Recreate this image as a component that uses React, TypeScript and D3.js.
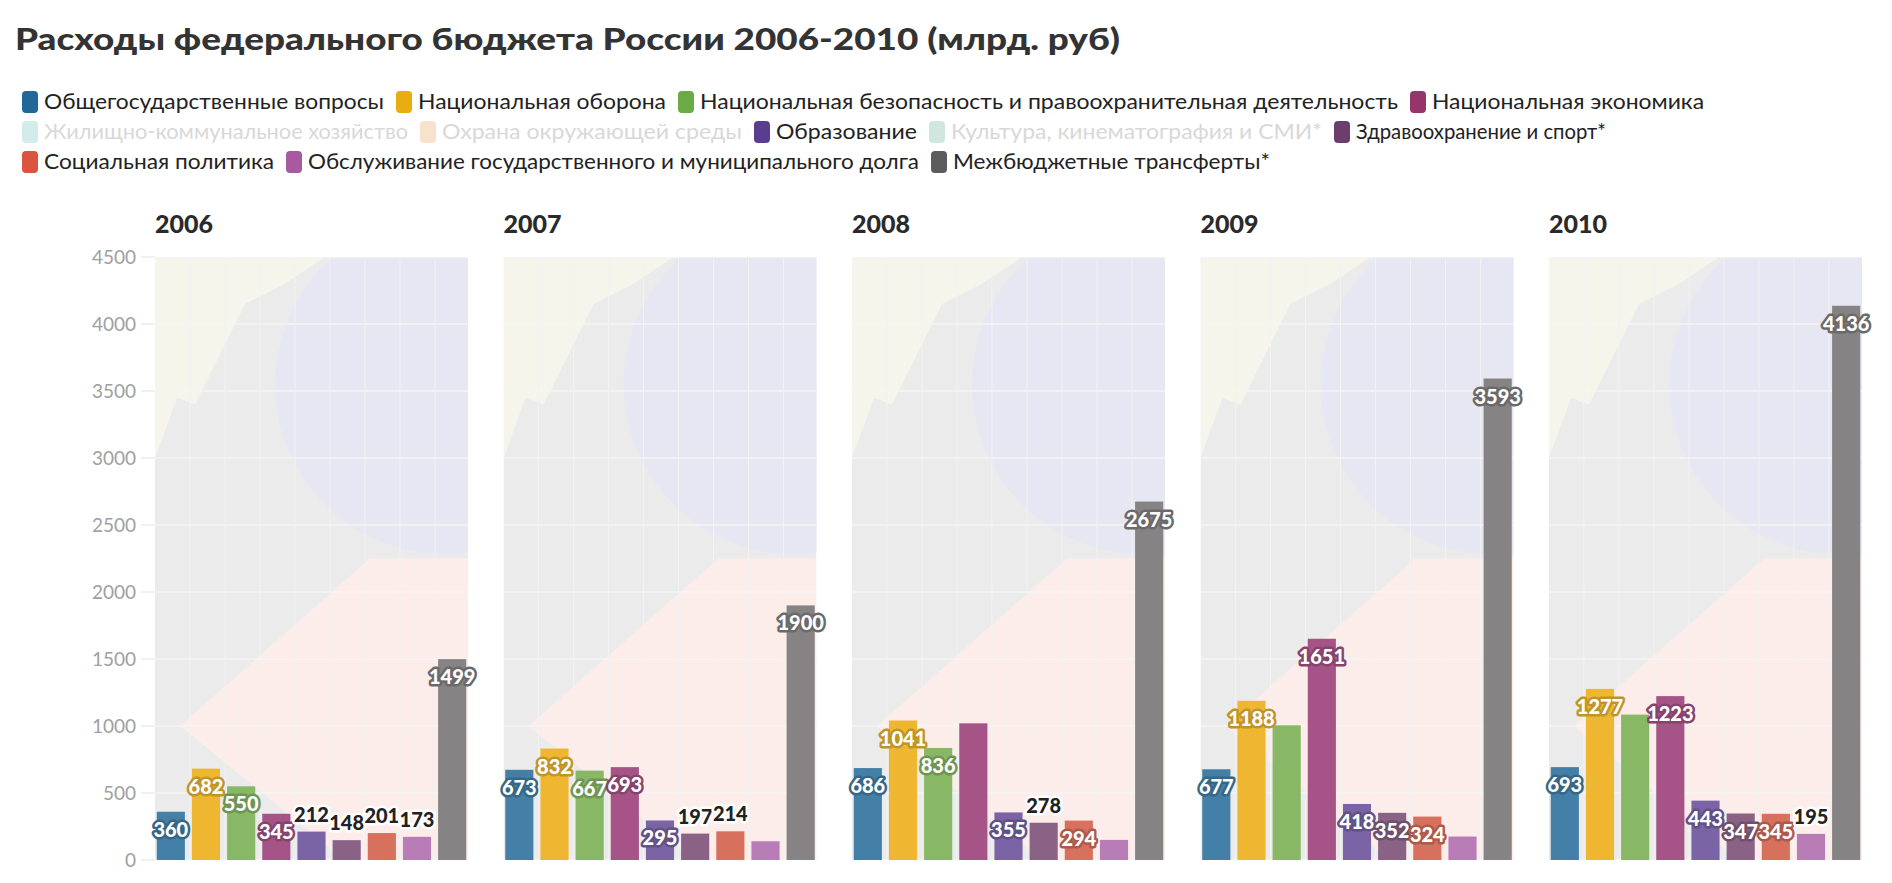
import React from "react";
import * as d3 from "d3";

const years = ["2006", "2007", "2008", "2009", "2010"];
const categories = [
  "Общегосударственные вопросы", "Национальная оборона",
  "Национальная безопасность и правоохранительная деятельность", "Национальная экономика",
  "Образование", "Здравоохранение и спорт*", "Социальная политика",
  "Обслуживание государственного и муниципального долга", "Межбюджетные трансферты*",
];
const barColors = ["#437fa6", "#efb731", "#88b865", "#a65487", "#7a64a5", "#8a6286", "#d7705c", "#b87cb6", "#858383"];
const values: number[][] = [
  [360, 682, 550, 345, 212, 148, 201, 173, 1499],
  [673, 832, 667, 693, 295, 197, 214, 140, 1900],
  [686, 1041, 836, 1020, 355, 278, 294, 150, 2675],
  [677, 1188, 1005, 1651, 418, 352, 324, 175, 3593],
  [693, 1277, 1085, 1223, 443, 347, 345, 195, 4136],
];
// 0 = hidden, 1 = inside (white on colour), 2 = above (dark on white)
const labelMode: number[][] = [
  [1, 1, 1, 1, 2, 2, 2, 2, 1],
  [1, 1, 1, 1, 1, 2, 2, 0, 1],
  [1, 1, 1, 0, 1, 2, 1, 0, 1],
  [1, 1, 0, 1, 1, 1, 1, 0, 1],
  [1, 1, 0, 1, 1, 1, 1, 2, 1],
];
const yTicks = [0, 500, 1000, 1500, 2000, 2500, 3000, 3500, 4000, 4500];
const legendRows = [
  [["Общегосударственные вопросы", "#1f6897", 1], ["Национальная оборона", "#e8ad0f", 1], ["Национальная безопасность и правоохранительная деятельность", "#6aab46", 1], ["Национальная экономика", "#973469", 1]],
  [["Жилищно-коммунальное хозяйство", "#d3ebeb", 0], ["Охрана окружающей среды", "#f8e2cc", 0], ["Образование", "#5b3d8f", 1], ["Культура, кинематография и СМИ*", "#d0e6df", 0], ["Здравоохранение и спорт*", "#6c3e6e", 1]],
  [["Социальная политика", "#d9553f", 1], ["Обслуживание государственного и муниципального долга", "#a85aa0", 1], ["Межбюджетные трансферты*", "#5c5c5c", 1]],
];
const legendX = [[22, 396, 678, 1410, 1716], [22, 420, 754, 929, 1334, 1618], [22, 286, 931, 1282]];

const font = "Lato, 'Open Sans', 'Noto Sans', sans-serif";

export default function App() {
  const W = 1892, H = 883;
  const pw = 313;
  const panelX = d3.range(5).map(i => 155 + i * 348.5);
  const y = d3.scaleLinear().domain([0, 4500]).range([860, 257]);
  const x = d3.scaleBand<number>().domain(d3.range(9)).range([0, pw]).paddingInner(0.2).paddingOuter(0.05);
  return (
    <svg width={W} height={H} style={{ display: "block", position: "absolute", left: 0, top: 0, fontFamily: font }}>
      <text x={15} y={50} fontSize={31} fontWeight={900} fill="#333" textLength={1105} lengthAdjust="spacingAndGlyphs">Расходы федерального бюджета России 2006-2010 (млрд. руб)</text>
      {legendRows.map((row, ri) => row.map((it, i) => {
        const x0 = legendX[ri][i];
        const tl = legendX[ri][i + 1] - x0 - 22 - 12;
        return (
          <g key={ri + "-" + i} transform={`translate(${x0},${91 + ri * 30})`}>
            <rect width={16} height={22} rx={4} fill={it[1] as string} />
            <text x={22} y={18} fontSize={21} fill={it[2] ? "#222" : "#d8d8d8"} textLength={tl} lengthAdjust="spacingAndGlyphs">{it[0] as string}</text>
          </g>
        );
      }))}
      <g fill="#a0a0a0" fontSize={19} textAnchor="end">
        {yTicks.map(t => <text key={t} x={136} y={y(t) + 7}>{t}</text>)}
      </g>
      {yTicks.map(t => <line key={t} x1={141} x2={155} y1={y(t)} y2={y(t)} stroke="#ececec" strokeWidth={1.5} />)}
      <defs>
        {panelX.map((px, p) => (
          <clipPath id={"clip" + p} key={p}><rect x={px} y={257} width={pw} height={603} /></clipPath>
        ))}
      </defs>
      {panelX.map((px, p) => (
        <g key={p}>
          <text x={px} y={233} fontSize={25} fontWeight={900} fill="#2a2a2a">{years[p]}</text>
          <g clipPath={`url(#clip${p})`}>
            <rect x={px} y={257} width={pw} height={603} fill="#ebebeb" />
            <polygon points={`${px + 25},${y(1000)} ${px + 215},${y(2250)} ${px + pw},${y(2250)} ${px + pw},860 ${px + 190},860`} fill="#fcedea" />
            <circle cx={px + 290} cy={y(3550)} r={170} fill="#e6e7f3" />
            <polygon points={`${px},${y(3000)} ${px + 22},${y(3450)} ${px + 40},${y(3400)} ${px + 90},${y(4150)} ${px + 130},${y(4300)} ${px + 170},${y(4500)} ${px},${y(4500)}`} fill="#f6f5ec" />
            {yTicks.map(t => <line key={t} x1={px} x2={px + pw} y1={y(t)} y2={y(t)} stroke="#f4f4f4" strokeWidth={1.5} />)}
            {d3.range(1, 9).map(k => <line key={k} x1={px + k * 35} x2={px + k * 35} y1={257} y2={860} stroke="#f2f2f2" strokeWidth={1} />)}
          </g>
          {values[p].map((v, i) => (
            <rect key={i} x={px + x(i)!} y={y(v)} width={x.bandwidth()} height={860 - y(v)} fill={barColors[i]} />
          ))}
          {values[p].map((v, i) => {
            const m = labelMode[p][i];
            if (!m) return null;
            const cx = px + x(i)! + x.bandwidth() / 2;
            const ty = m === 1 ? y(v) + 25 : y(v) - 10;
            return (
              <text key={"l" + i} x={cx} y={ty} fontSize={20} fontWeight={900} textAnchor="middle"
                fill={m === 1 ? "#fff" : "#222"} stroke={m === 1 ? d3.color(barColors[i])!.darker(0.6).toString() : "#fff"}
                strokeWidth={5} strokeLinejoin="round" paintOrder="stroke">{v}</text>
            );
          })}
        </g>
      ))}
    </svg>
  );
}
